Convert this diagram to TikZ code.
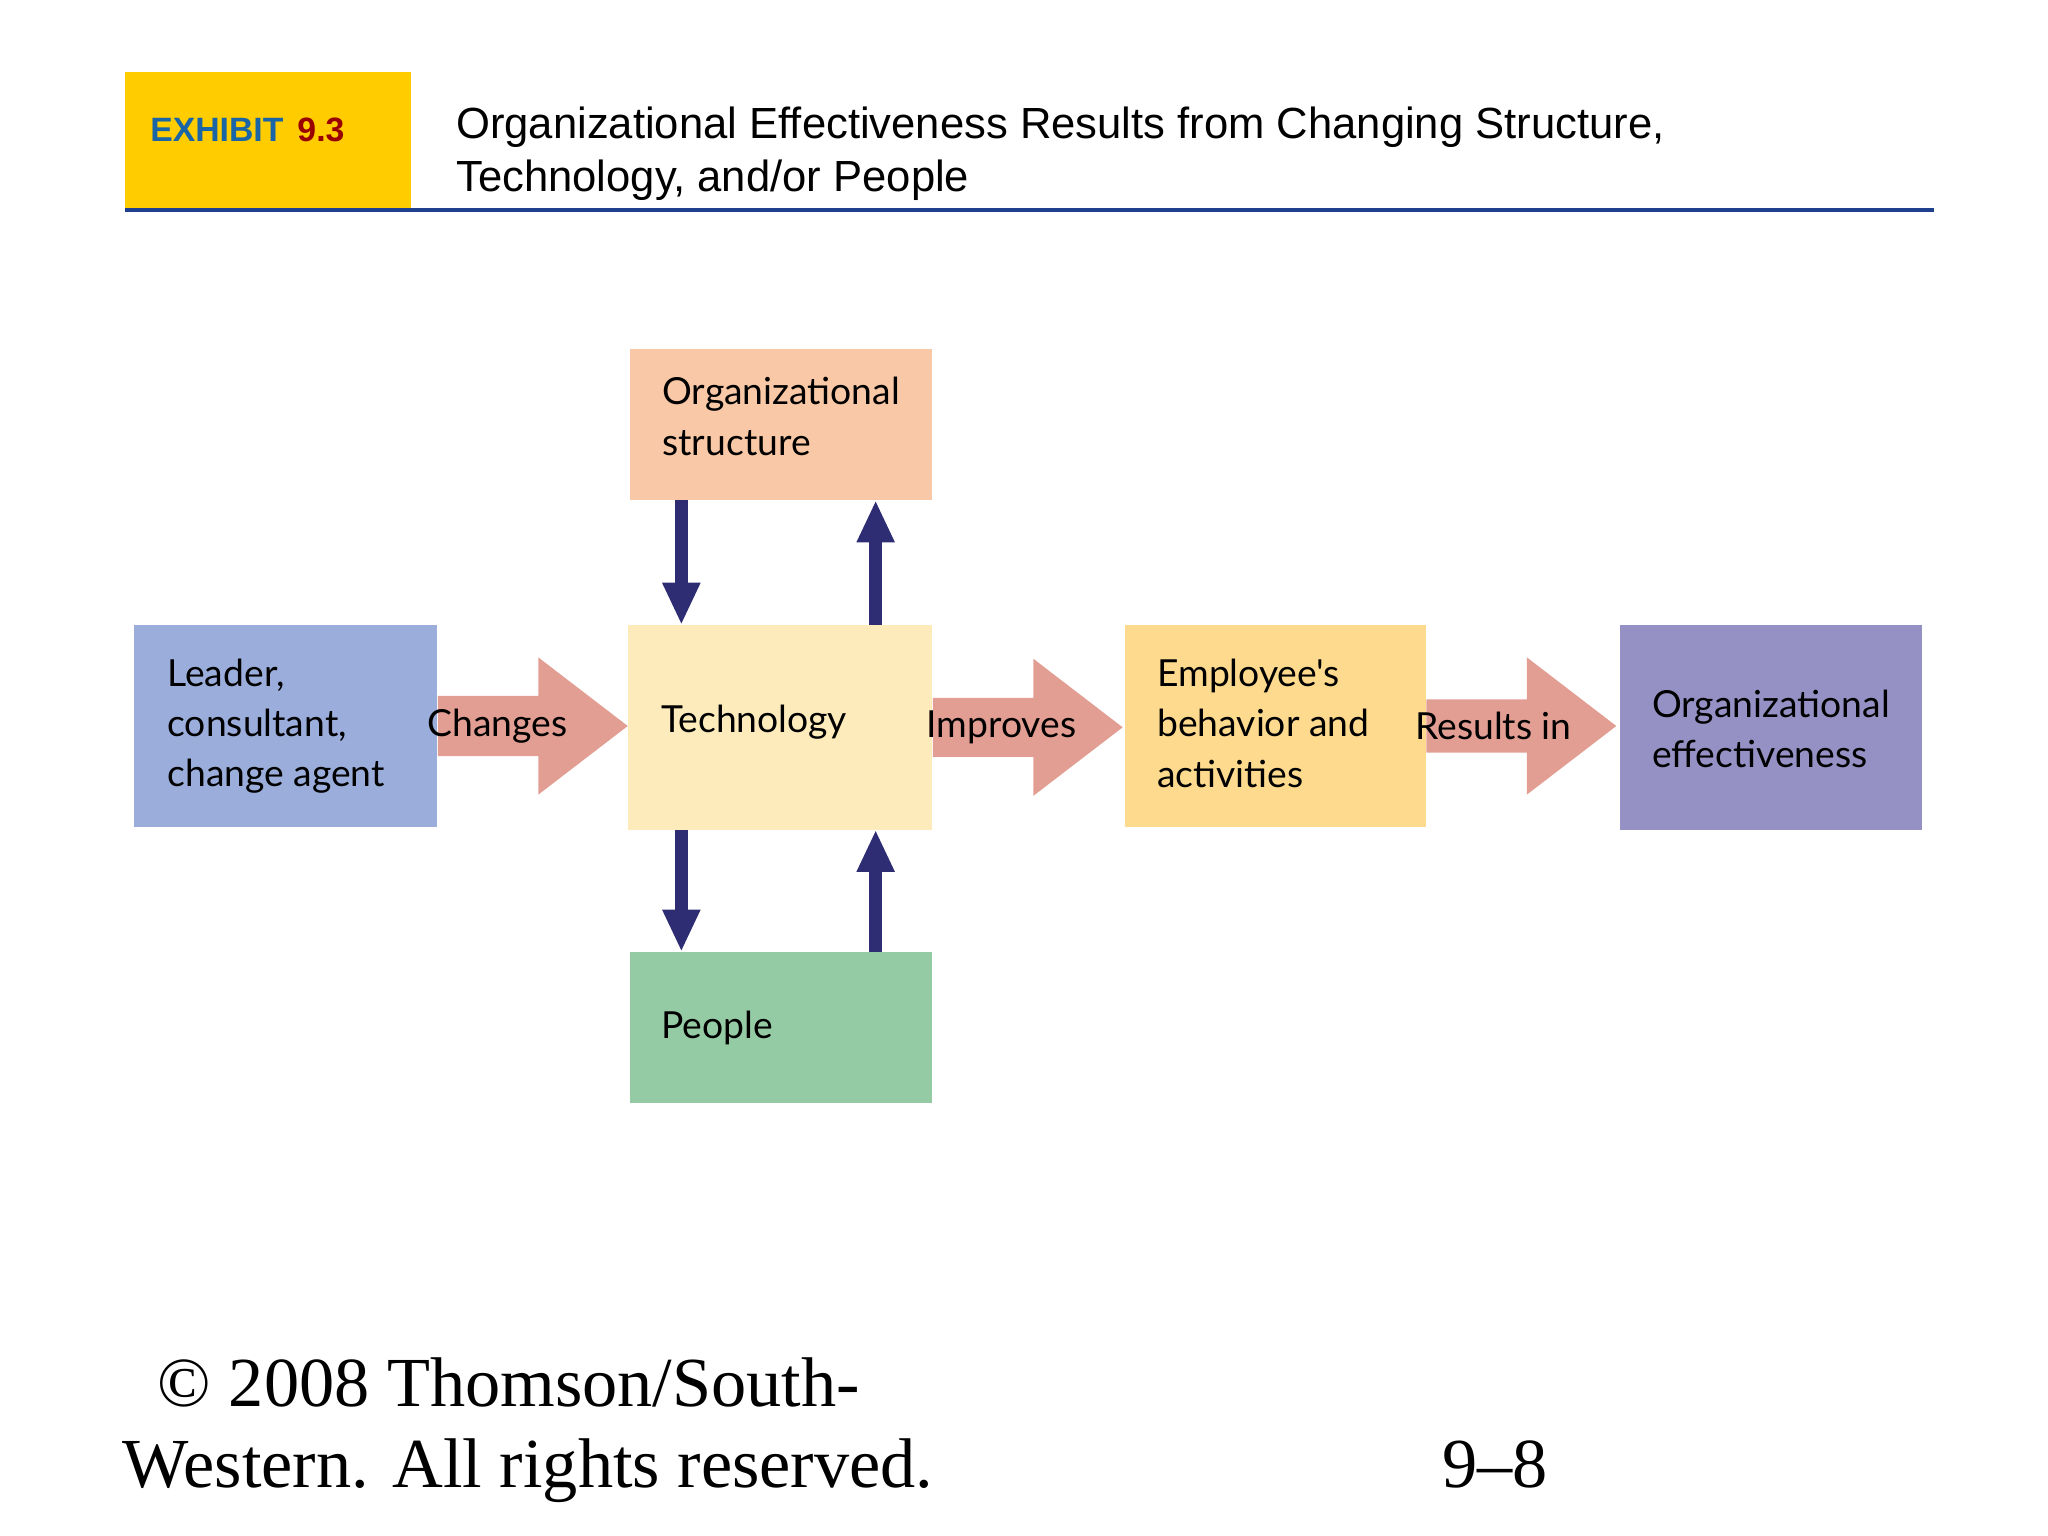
\documentclass[tikz,border=0pt]{standalone}
\usepackage{fontspec}
\setmainfont{Liberation Serif}
\newfontfamily\boxfont{Lato}
\newfontfamily\headfont{Liberation Sans}
\usetikzlibrary{shapes.arrows,arrows.meta}
\definecolor{exhibit}{HTML}{FFCC00}
\definecolor{rule}{HTML}{1F3F8F}
\definecolor{structc}{HTML}{F9C8A6}
\definecolor{techc}{HTML}{FDEBBB}
\definecolor{peoplec}{HTML}{94CBA4}
\definecolor{leaderc}{HTML}{9BAEDB}
\definecolor{employc}{HTML}{FDDA8E}
\definecolor{effectc}{HTML}{9591C4}
\definecolor{pinkc}{HTML}{E29E92}
\definecolor{navyc}{HTML}{2E2D73}
\tikzset{
  box/.style={anchor=north west, inner sep=0pt, align=left, font=\boxfont\fontsize{10.6}{14.3}\selectfont},
  bigarrow/.style={single arrow, fill=pinkc, inner sep=0pt, minimum height=54pt,
    minimum width=39pt, single arrow head extend=6.5pt, single arrow tip angle=75,
    font=\boxfont\fontsize{10.6}{14}\selectfont, anchor=west},
  darr/.style={navyc, line width=3.6pt, -{Triangle[length=12pt,width=10pt]}},
}
\begin{document}
\begin{tikzpicture}[x=0.01313cm,y=-0.01313cm]
  \useasboundingbox (0,0) rectangle (1560,1170);
  % header
  \fill[exhibit] (95,55) rectangle (313,160);
  \node[anchor=west, font=\headfont\bfseries\fontsize{9.6}{12}\selectfont] (exh) at (105,99)
    {\textcolor{rule!80!cyan}{EXHIBIT}\hspace{4pt}\textcolor{red!60!black}{9.3}};
  \node[anchor=west, align=left, inner sep=0pt, font=\headfont\fontsize{12.4}{15.2}\selectfont] (title) at (347,117)
    {Organizational Effectiveness Results from Changing Structure,\\Technology, and/or People};
  \draw[rule, line width=1pt] (95,160) -- (1473,160);
  % boxes
  \fill[structc] (480,266) rectangle (710,381);
  \node[box] (struct) at (504,287) {Organizational\\structure};
  \fill[techc] (478,476) rectangle (710,632);
  \node[box, anchor=west] (tech) at (503,550) {Technology};
  \fill[peoplec] (480,725) rectangle (710,840);
  \node[box, anchor=west] (people) at (503,783) {People};
  \fill[leaderc] (102,476) rectangle (333,630);
  \node[box, anchor=west] (leader) at (127,553) {Leader,\\consultant,\\change agent};
  \fill[employc] (857,476) rectangle (1086,630);
  \node[box, anchor=west] (employ) at (881,551) {Employee's\\behavior and\\activities};
  \fill[effectc] (1234,476) rectangle (1464,632);
  \node[box, anchor=west] (effect) at (1258,555) {Organizational\\effectiveness};
  % flow arrows
  \node[bigarrow] (changes) at (333,553) {\hspace{-9pt}Changes\hspace{4pt}};
  \node[bigarrow] (improves) at (710,554) {\hspace{-4pt}Improves\hspace{4pt}};
  \node[bigarrow] (results) at (1086,553) {\hspace{-6pt}Results in\hspace{4pt}};
  % exchange arrows
  \coordinate (s1) at (519,381); \coordinate (t1) at (519,476);
  \coordinate (s2) at (667,381); \coordinate (t2) at (667,476);
  \coordinate (t3) at (519,632); \coordinate (p1) at (519,725);
  \coordinate (t4) at (667,632); \coordinate (p2) at (667,725);
  \draw[darr] (s1) -- (t1);
  \draw[darr] (t2) -- (s2);
  \draw[darr] (t3) -- (p1);
  \draw[darr] (p2) -- (t4);
  % footer
  \node[anchor=base west, align=left, inner sep=0pt, font=\fontsize{20}{23}\selectfont] (copy) at (93,1133)
    {\hspace{10pt}\textcopyright{} 2008 Thomson/South-\\Western. All rights reserved.};
  \node[anchor=base west, inner sep=0pt, font=\fontsize{20}{23}\selectfont] (page) at (1098,1133) {9--8};
\end{tikzpicture}
\end{document}
